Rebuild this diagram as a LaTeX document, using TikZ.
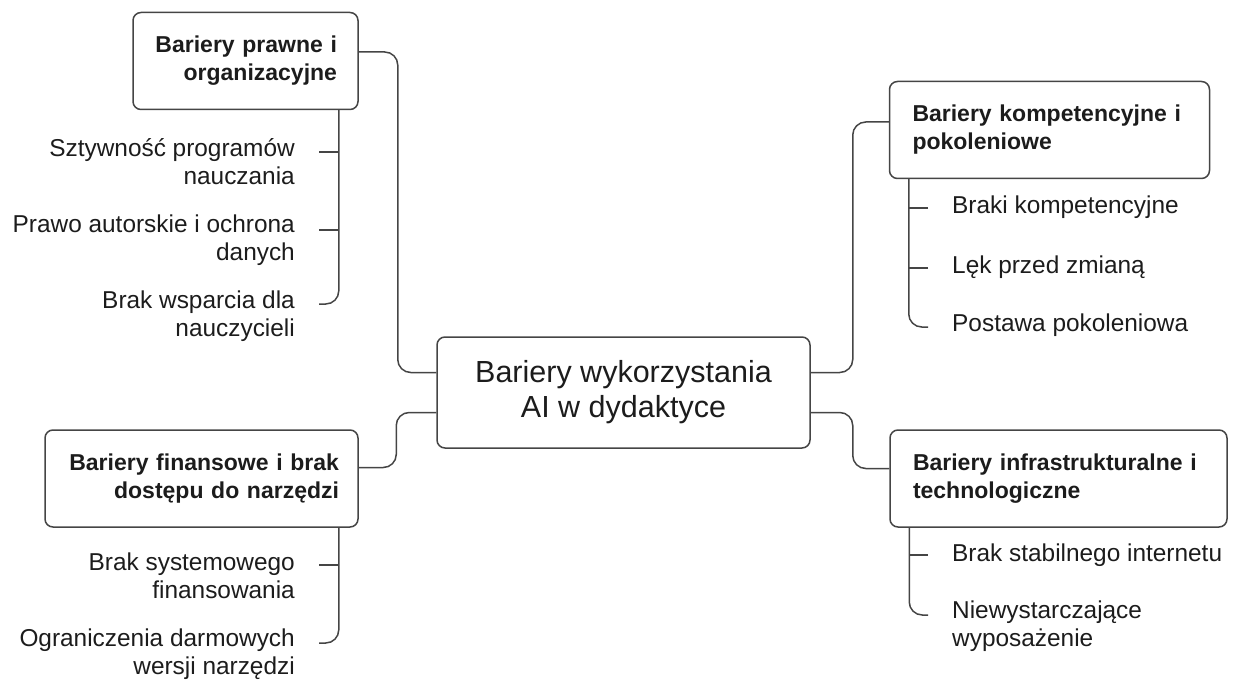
\documentclass[tikz,border=0pt]{standalone}
\usepackage{fontspec}
\setmainfont{Liberation Sans}
\definecolor{ink}{HTML}{1C1C1C}
\definecolor{wire}{HTML}{454545}
\tikzset{
  box/.style={draw=wire, line width=1.5pt, rounded corners=8pt, inner ysep=0pt, inner xsep=23pt, text=ink, minimum height=97pt},
  head/.style={box, font=\bfseries\fontsize{23}{28}\selectfont},
  core/.style={box, align=center, minimum width=373pt, minimum height=111pt, font=\fontsize{30.5}{35}\selectfont},
  leaf/.style={inner xsep=24pt, inner ysep=0pt, text=ink, font=\fontsize{24.4}{28}\selectfont},
  link/.style={draw=wire, line width=1.5pt, rounded corners=13pt}
}
\begin{document}
\begin{tikzpicture}[x=1pt,y=-1pt]
\useasboundingbox (0,0) rectangle (1235,682);
\node[core] (core) at (623.5,392.5) {Bariery wykorzystania\\AI w dydaktyce};
\node[head, text width=183pt, inner xsep=21pt, align=right] (legal) at (245.5,61) {Bariery prawne i\\organizacyjne};
\node[head, text width=274pt, align=left] (skills) at (1049.5,130) {Bariery kompetencyjne i\\pokoleniowe};
\node[head, text width=275pt, inner xsep=19pt, align=right] (money) at (201.5,478.5) {Bariery finansowe i brak\\dostępu do narzędzi};
\node[head, text width=291pt, align=left] (infra) at (1058.5,478.5) {Bariery infrastrukturalne i\\technologiczne};
\draw[link] ([yshift=9pt]legal.east) -- ++(39,0) |- ([yshift=20pt]core.west);
\draw[link] ([yshift=-20pt]core.west) -- ++(-40,0) |- ([yshift=11pt]money.east);
\draw[link] ([yshift=20pt]core.east) -- ++(42,0) |- ([yshift=8pt]skills.west);
\draw[link] ([yshift=-20pt]core.east) -- ++(42,0) |- ([yshift=10pt]infra.west);
\node[leaf, anchor=east, align=right] (lgl1) at (319,162) {Sztywność programów\\nauczania};
\node[leaf, anchor=east, align=right] (lgl2) at (319,240) {Prawo autorskie i ochrona\\danych};
\node[leaf, anchor=east, align=right] (lgl3) at (319,316) {Brak wsparcia dla\\nauczycieli};
\node[leaf, anchor=east, align=right] (mon1) at (319,576) {Brak systemowego\\finansowania};
\node[leaf, anchor=east, align=right] (mon2) at (319,654) {Ograniczenia darmowych\\wersji narzędzi};
\node[leaf, anchor=west] (skl1) at (928,207) {Braki kompetencyjne};
\node[leaf, anchor=west] (skl2) at (928,267) {Lęk przed zmianą};
\node[leaf, anchor=west] (skl3) at (928,325) {Postawa pokoleniowa};
\node[leaf, anchor=west] (inf1) at (928,555) {Brak stabilnego internetu};
\node[leaf, anchor=west, align=left] (inf2) at (928,626) {Niewystarczające\\wyposażenie};
\coordinate (legalfoot) at ([xshift=-20pt]legal.south east);
\coordinate (moneyfoot) at ([xshift=-20pt]money.south east);
\coordinate (skillsfoot) at ([xshift=20pt]skills.south west);
\coordinate (infrafoot) at ([xshift=20pt]infra.south west);
\draw[link] (legalfoot) |- ([yshift=12pt]lgl3.east);
\draw[link] ([yshift=10pt]lgl1.east) -- ([yshift=10pt]lgl1.east -| legalfoot);
\draw[link] ([yshift=10pt]lgl2.east) -- ([yshift=10pt]lgl2.east -| legalfoot);
\draw[link] (moneyfoot) |- ([yshift=11pt]mon2.east);
\draw[link] ([yshift=11pt]mon1.east) -- ([yshift=11pt]mon1.east -| moneyfoot);
\draw[link] (skillsfoot) |- ([yshift=-2pt]skl3.west);
\draw[link] ([yshift=-1pt]skl1.west) -- ([yshift=-1pt]skl1.west -| skillsfoot);
\draw[link] ([yshift=-1pt]skl2.west) -- ([yshift=-1pt]skl2.west -| skillsfoot);
\draw[link] (infrafoot) |- ([yshift=11pt]inf2.west);
\draw[link] (inf1.west) -- (inf1.west -| infrafoot);
\end{tikzpicture}
\end{document}
